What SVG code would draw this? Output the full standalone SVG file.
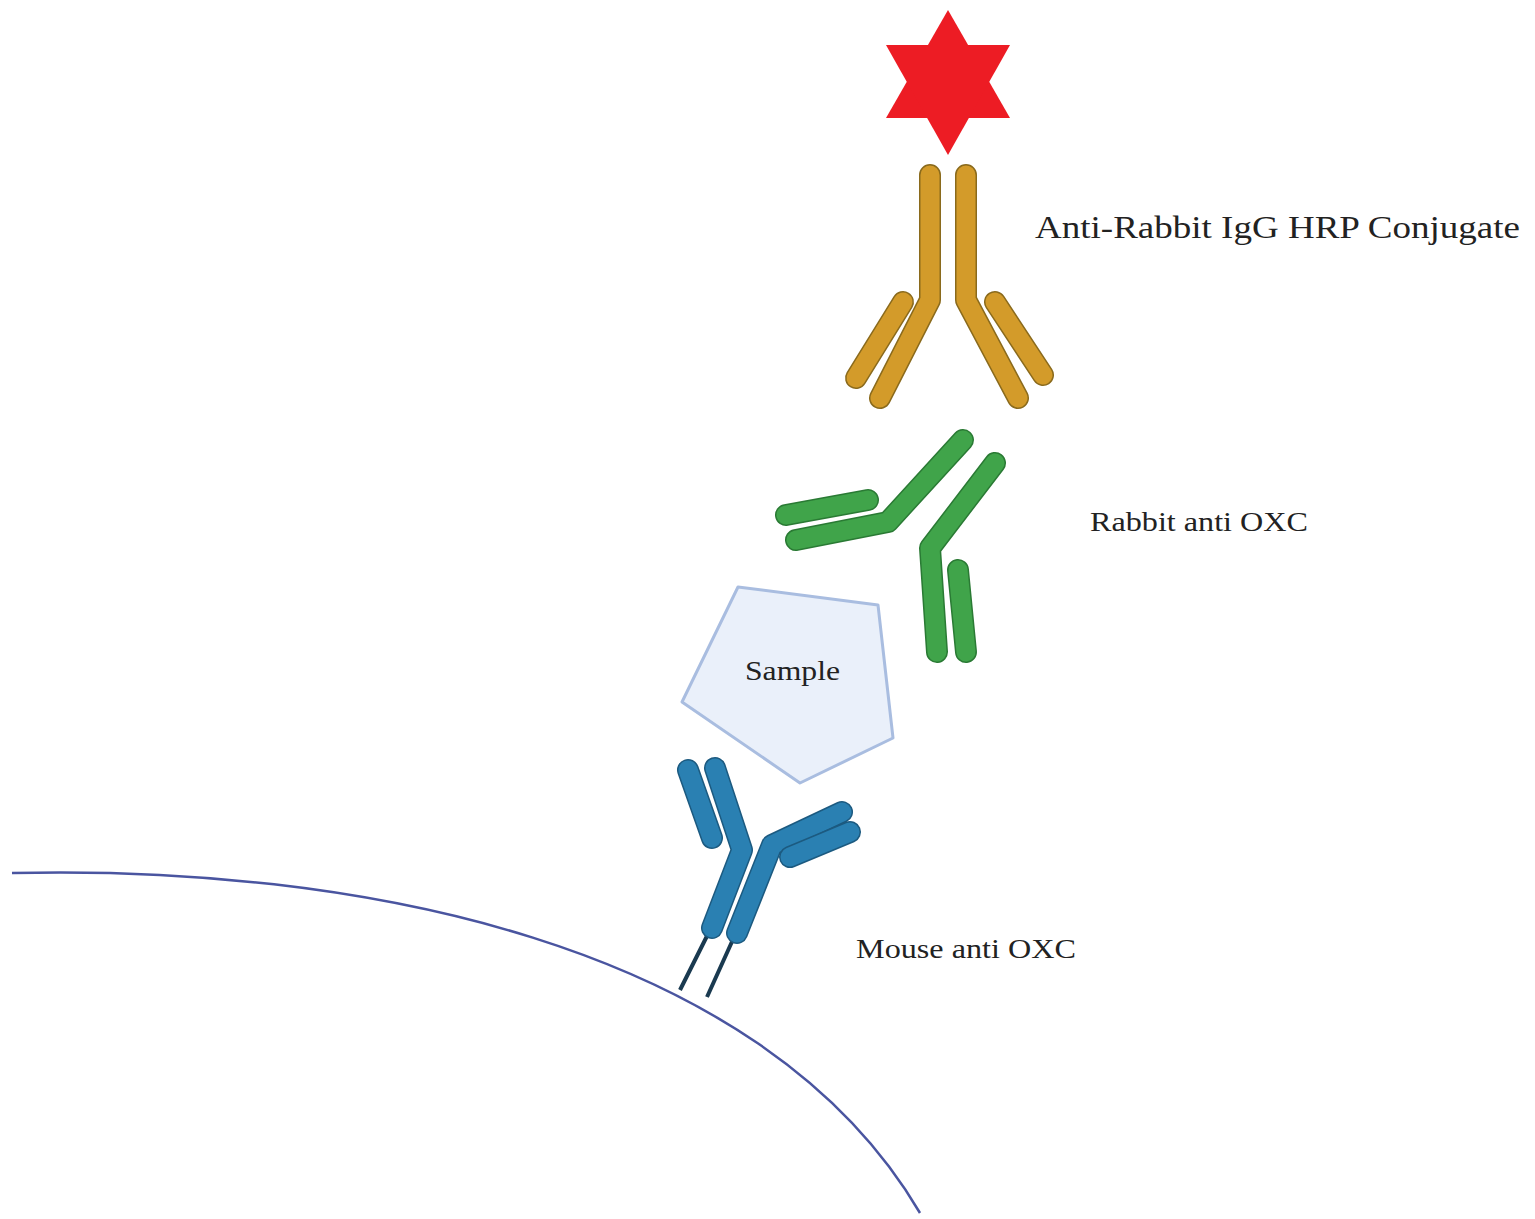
<svg xmlns="http://www.w3.org/2000/svg" width="1535" height="1219" viewBox="0 0 1535 1219">
<style>
.o{fill:none;stroke-linecap:round;stroke-linejoin:round;stroke-width:22}
.i{fill:none;stroke-linecap:round;stroke-linejoin:round;stroke-width:19}
.g .o{stroke:#8a6a1c}.g .i{stroke:#d39b2a}
.gr .o{stroke:#2a7a34}.gr .i{stroke:#40a44a}
.b .o{stroke:#1c5a80}.b .i{stroke:#2a80b2}
text{font-family:"Liberation Serif",serif;fill:#222}
</style>
<rect width="1535" height="1219" fill="#fff"/>
<g id="cell"><path d="M12,873 C350,865 760,940 920,1213" fill="none" stroke="#4a55a0" stroke-width="2.5"/></g>
<g id="hrp"><polygon points="948,10 1010,118 886,118" fill="#ed1c24"/><polygon points="948,155 1010,45 886,45" fill="#ed1c24"/></g>
<g id="anti-rabbit" class="g">
<path class="o" d="M930,175 V300 L880,398"/><path class="i" d="M930,175 V300 L880,398"/>
<path class="o" d="M966,175 V300 L1018,398"/><path class="i" d="M966,175 V300 L1018,398"/>
<path class="o" d="M903,302 L856,378"/><path class="i" d="M903,302 L856,378"/>
<path class="o" d="M995,302 L1043,375"/><path class="i" d="M995,302 L1043,375"/>
</g>
<g id="rabbit" class="gr">
<path class="o" d="M963,440 L888,522 L796,540"/><path class="i" d="M963,440 L888,522 L796,540"/>
<path class="o" d="M995,463 L930,548 L937,652"/><path class="i" d="M995,463 L930,548 L937,652"/>
<path class="o" d="M786,515 L868,500"/><path class="i" d="M786,515 L868,500"/>
<path class="o" d="M958,570 L966,652"/><path class="i" d="M958,570 L966,652"/>
</g>
<g id="sample"><polygon points="738,587 878,605 893,738 800,783 682,702" fill="#eaf0fa" stroke="#a9bde0" stroke-width="3" stroke-linejoin="round"/>
<text x="745" y="680" font-size="28" textLength="95" lengthAdjust="spacingAndGlyphs">Sample</text></g>
<g id="mouse" class="b">
<path d="M710,930 L680,990 M735,935 L707,997" stroke="#1a3a50" stroke-width="4" fill="none"/>
<path class="o" d="M715,768 L742,850 L712,928"/><path class="i" d="M715,768 L742,850 L712,928"/>
<path class="o" d="M842,812 L772,845 L737,933"/><path class="i" d="M842,812 L772,845 L737,933"/>
<path class="o" d="M688,770 L712,838"/><path class="i" d="M688,770 L712,838"/>
<path class="o" d="M850,832 L790,857"/><path class="i" d="M850,832 L790,857"/>
</g>
<g id="labels">
<text x="1035" y="238" font-size="31" textLength="485" lengthAdjust="spacingAndGlyphs">Anti-Rabbit IgG HRP Conjugate</text>
<text x="1090" y="531" font-size="28" textLength="218" lengthAdjust="spacingAndGlyphs">Rabbit anti OXC</text>
<text x="856" y="958" font-size="28" textLength="220" lengthAdjust="spacingAndGlyphs">Mouse anti OXC</text>
</g>
</svg>
